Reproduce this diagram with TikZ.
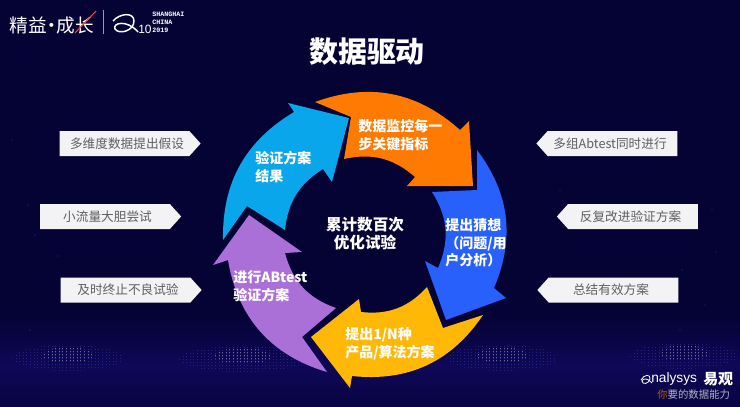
\documentclass[tikz,border=0pt]{standalone}
\usepackage{fontspec}
\setmainfont{Noto Sans CJK SC}
\newfontfamily\latinfont{Liberation Sans}
\newfontfamily\monofont{Liberation Mono}
\usetikzlibrary{shapes.symbols, positioning}
\definecolor{bgnavy}{RGB}{5,2,52}
\definecolor{bgband}{RGB}{14,8,88}
\definecolor{hillblue}{RGB}{36,36,130}
\definecolor{hillgrey}{RGB}{105,105,145}
\definecolor{segorange}{RGB}{255,122,0}
\definecolor{segblue}{RGB}{40,96,252}
\definecolor{segyellow}{RGB}{255,184,6}
\definecolor{segpurple}{RGB}{170,112,216}
\definecolor{segcyan}{RGB}{10,166,236}
\definecolor{tagfill}{RGB}{243,243,245}
\definecolor{tagtext}{RGB}{95,95,100}
\tikzstyle{seglabel} = [anchor=west, inner sep=0pt, align=left, text=white, font=\fontsize{10.5}{13.2}\selectfont\bfseries]
\tikzstyle{centerlabel} = [inner sep=0pt, align=center, text=white, font=\fontsize{11.7}{13.6}\selectfont\bfseries]
\tikzstyle{tagright} = [signal, signal to=east, signal pointer angle=96, fill=tagfill, text=tagtext, inner sep=0pt, minimum width=141*0.75pt, minimum height=25*0.75pt, font=\fontsize{9.5}{11}\selectfont, execute at begin node={\hspace*{3.75pt}}]
\tikzstyle{tagleft} = [signal, signal to=west, signal pointer angle=96, fill=tagfill, text=tagtext, inner sep=0pt, minimum width=141*0.75pt, minimum height=25*0.75pt, font=\fontsize{9.5}{11}\selectfont, execute at end node={\hspace*{3.75pt}}]
\tikzstyle{logotext} = [inner sep=0pt, text=white]

\begin{document}
\begin{tikzpicture}[x=0.75pt, y=-0.75pt]
            \useasboundingbox (0,0) rectangle (740,407);
            % background
            \fill [bgnavy] (0,0) rectangle (740,407);
            \shade [top color=bgnavy, bottom color=bgband] (0,315) rectangle (740,365);
            \shade [top color=bgband, bottom color=bgnavy!60!bgband] (0,365) rectangle (740,407);
            \foreach \hx/\hy/\hw in {68/358/56, 243/359/64, 502/358/56, 684/356/54} {
                \begin{scope}
                    \clip (\hx,\hy) ellipse [x radius=\hw, y radius=13];
                    \foreach \rowy in {-12,-9,...,12} {
                        \draw [hillblue, line width=0.7pt, dotted] (\hx-\hw,\hy+\rowy) -- (\hx+\hw,\hy+\rowy);
                    }
                \end{scope}
                \begin{scope}
                    \clip (\hx,\hy-3) ellipse [x radius=0.45*\hw, y radius=8];
                    \foreach \rowy in {-10,-7,...,5} {
                        \draw [hillgrey, line width=0.7pt, dotted] (\hx-\hw,\hy+\rowy) -- (\hx+\hw,\hy+\rowy);
                    }
                \end{scope}
            }
            \foreach \dx/\dy in {12/140, 28/205, 35/235, 58/256, 70/280, 88/150, 108/300, 560/190, 712/210, 716/252, 682/270, 705/305, 30/330, 680/330} {
                \fill [hillgrey, fill opacity=0.5] (\dx,\dy) circle [radius=0.7];
            }

            % the cycle
            \fill [segorange] (315,102) to[bend left=31] (460,130) -- (469,121) -- (473,186) -- (407,186) -- (415,177) to[bend right=27] (344,159) -- (351,117) -- cycle;
            \fill [segblue] (477,150) to[bend left=30] (494,288) -- (506,298) -- (446,320) -- (425,261) -- (438,268) to[bend right=28] (432,192) -- (477,190) -- cycle;
            \fill [segyellow] (483,315) to[bend left=31] (352,376) -- (350,388) -- (311,337) -- (359,299) -- (361,312) to[bend right=27] (427,287) -- (443,328) -- cycle;
            \fill [segpurple] (327,372) to[bend left=32] (228,260) -- (213,265) -- (249,215) -- (302,252) -- (285,253) to[bend right=28] (336,308) -- (302,337) -- cycle;
            \fill [segcyan] (223,240) to[bend left=30] (294,112) -- (288,103) -- (349,118) -- (332,182) -- (323,169) to[bend right=26] (285,230) -- (247,206) -- cycle;

            \node (title) [logotext, font=\fontsize{21.7}{24}\selectfont\bfseries] at (367,52) {数据驱动};

            \node (monitor) [seglabel] at (358,135.5) {数据监控每一\\步关键指标};
            \node (guess) [seglabel] at (445,243) {提出猜想\\（问题/用\\户分析）};
            \node (scheme) [seglabel] at (345,344) {提出1/N种\\产品/算法方案};
            \node (abtest) [seglabel] at (233,286) {进行ABtest\\验证方案};
            \node (result) [seglabel] at (255,167) {验证方案\\结果};
            \node (hub) [centerlabel] at (365,234) {累计数百次\\优化试验};

            \node (assume) [tagright] at (124.5,143.5) {多维度数据提出假设};
            \node (small) [tagright] at (105,216.5) {小流量大胆尝试};
            \node (stop) [tagright] at (125.5,290) {及时终止不良试验};
            \node (multi) [tagleft] at (612.5,143.5) {多组Abtest同时进行};
            \node (improve) [tagleft] at (633,216.5) {反复改进验证方案};
            \node (sum) [tagleft] at (613.5,290) {总结有效方案};

            % logos
            \node (brand) [logotext, font=\fontsize{14}{16}\selectfont] at (52,25) {精益\kern-3.5pt·\kern-3.5pt成长};
            \coordinate (slasha) at (75,33);
            \coordinate (slashb) at (96,11);
            \draw [red!75!white, line width=0.8pt] (slasha) -- (slashb);
            \coordinate (bara) at (103,10);
            \coordinate (barb) at (103,34);
            \draw [white!60!bgnavy, line width=0.5pt] (bara) -- (barb);
            \draw [white, line width=1.1pt] (113,21) .. controls (120,13) and (134,12) .. (134,21) .. controls (134,31) and (119,35) .. (115,29) .. controls (112,23) and (127,19) .. (138,32);
            \node (aten) [logotext, font=\latinfont\fontsize{9}{10}\selectfont] at (145,29) {10};
            \node (city) [logotext, align=left, anchor=west, font=\monofont\bfseries\fontsize{5}{6}\selectfont] at (152,22) {SHANGHAI\\CHINA\\2019};

            \draw [white, line width=0.6pt] (641,380) .. controls (644,374) and (651,374) .. (650,379) .. controls (649,384) and (642,385) .. (642,381) .. controls (643,378) and (648,378) .. (652,383);
            \node (analysys) [logotext, anchor=west, font=\latinfont\fontsize{10.3}{11}\selectfont] at (651,379) {nalysys};
            \node (yiguan) [logotext, anchor=west, font=\fontsize{11.2}{13}\selectfont\bfseries] at (703,379) {易观};
            \node (slogan) [logotext, anchor=west, text=white!70!bgnavy, font=\fontsize{7.8}{9}\selectfont] at (657,395) {\textcolor{orange!70!black}{你}要的数据能力};
\end{tikzpicture}
\end{document}
